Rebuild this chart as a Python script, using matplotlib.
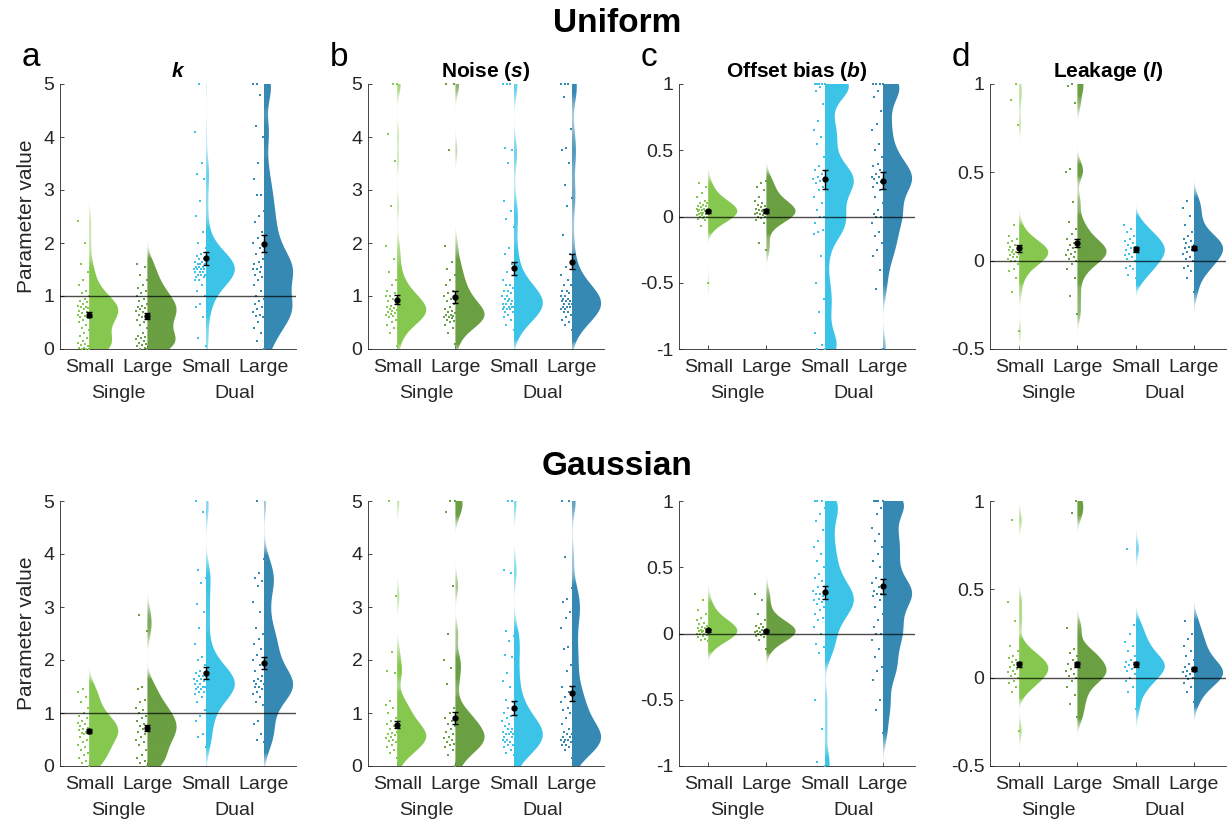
import numpy as np
import matplotlib
matplotlib.use('Agg')
import matplotlib.pyplot as plt
from matplotlib.patches import Polygon
from matplotlib.colors import to_rgb

plt.rcParams['font.family'] = ['Liberation Sans', 'DejaVu Sans']
plt.rcParams['mathtext.fontset'] = 'custom'
plt.rcParams['mathtext.rm'] = 'Liberation Sans'
plt.rcParams['mathtext.it'] = 'Liberation Sans:italic'
plt.rcParams['mathtext.bf'] = 'Liberation Sans:bold'
plt.rcParams['mathtext.bfit'] = 'Liberation Sans:italic:bold'
plt.rcParams['axes.unicode_minus'] = False

# ===== groups =====
CONDITIONS = ['Small', 'Large', 'Small', 'Large']
TASKS = ['Single', 'Dual']
COLORS = ['#86c84f', '#6a9f43', '#3cc4e8', '#3589b3']
TITLES = [r'$\mathbfit{k}$', r'Noise ($\mathbfit{s}$)', r'Offset bias ($\mathbfit{b}$)', r'Leakage ($\mathbfit{l}$)']
LETTERS = ['a', 'b', 'c', 'd']
ROW_TITLES = ['Uniform', 'Gaussian']

YLIMS = [(0, 5), (0, 5), (-1, 1), (-0.5, 1)]
YTICKS = [[0, 1, 2, 3, 4, 5], [0, 1, 2, 3, 4, 5], [-1, -0.5, 0, 0.5, 1], [-0.5, 0, 0.5, 1]]
YTICKLABELS = [['0', '1', '2', '3', '4', '5'], ['0', '1', '2', '3', '4', '5'],
               ['-1', '-0.5', '0', '0.5', '1'], ['-0.5', '0', '0.5', '1']]
REF_LINES = [1, None, 0, 0]
# kernel bandwidth per panel: (single-task groups, dual-task groups)
BANDWIDTHS = [(0.2, 0.28), (0.2, 0.28), (0.07, 0.1), (0.05, 0.055)]

# ===== Uniform (individual fits) =====
UNI_K = [
    [0.0, 0.0, 0.0, 0.01, 0.02, 0.05, 0.08, 0.1, 0.12, 0.15, 0.2, 0.25, 0.3, 0.35, 0.4, 0.45, 0.5, 0.55, 0.58,
     0.6, 0.62, 0.65, 0.68, 0.7, 0.72, 0.75, 0.78, 0.8, 0.8, 0.82, 0.85, 0.88, 0.9, 0.95, 1.0, 1.05, 1.1,
     1.2, 1.3, 1.45, 1.6, 2.0, 2.42],
    [0.0, 0.0, 0.02, 0.05, 0.08, 0.1, 0.12, 0.15, 0.18, 0.2, 0.22, 0.25, 0.3, 0.4, 0.45, 0.5, 0.55, 0.6,
     0.62, 0.65, 0.7, 0.72, 0.75, 0.78, 0.8, 0.82, 0.85, 0.9, 0.95, 1.0, 1.05, 1.1, 1.15, 1.2, 1.3, 1.4,
     1.55, 1.6],
    [0.05, 0.2, 0.6, 0.8, 0.85, 1.0, 1.1, 1.2, 1.3, 1.3, 1.35, 1.35, 1.4, 1.4, 1.4, 1.45, 1.45, 1.45, 1.5,
     1.5, 1.5, 1.5, 1.55, 1.55, 1.55, 1.6, 1.6, 1.6, 1.65, 1.65, 1.7, 1.7, 1.75, 1.8, 1.9, 2.0, 2.2, 2.5,
     2.8, 3.2, 3.3, 3.5, 4.1, 5.0],
    [0.0, 0.15, 0.3, 0.4, 0.5, 0.6, 0.62, 0.65, 0.7, 0.75, 0.8, 0.85, 0.9, 0.95, 1.0, 1.1, 1.2, 1.3, 1.35,
     1.4, 1.45, 1.5, 1.5, 1.55, 1.6, 1.65, 1.7, 1.8, 1.9, 2.0, 2.1, 2.2, 2.4, 2.5, 2.6, 2.9, 2.9, 3.2, 3.5,
     4.0, 4.2, 4.8, 5.0, 5.0],
]
UNI_S = [
    [0.05, 0.3, 0.4, 0.45, 0.5, 0.55, 0.6, 0.62, 0.65, 0.66, 0.68, 0.7, 0.72, 0.74, 0.75, 0.78, 0.8, 0.82,
     0.85, 0.9, 0.95, 1.0, 1.0, 1.05, 1.1, 1.2, 1.3, 1.45, 1.7, 1.95, 2.7, 3.55, 4.05, 5.0, 5.0],
    [0.1, 0.3, 0.4, 0.45, 0.5, 0.52, 0.55, 0.58, 0.6, 0.6, 0.62, 0.64, 0.65, 0.68, 0.7, 0.72, 0.75, 0.8,
     0.85, 0.9, 0.95, 1.0, 1.05, 1.1, 1.2, 1.3, 1.4, 1.5, 1.65, 1.95, 3.75, 5.0, 5.0],
    [0.35, 0.45, 0.55, 0.6, 0.65, 0.7, 0.7, 0.75, 0.75, 0.75, 0.8, 0.8, 0.8, 0.8, 0.85, 0.85, 0.85, 0.9,
     0.9, 0.95, 0.95, 1.0, 1.0, 1.05, 1.1, 1.1, 1.15, 1.2, 1.2, 1.3, 1.45, 1.6, 1.8, 1.9, 2.3, 2.45, 2.6,
     2.8, 3.5, 3.75, 3.8, 5.0, 5.0, 5.0],
    [0.35, 0.45, 0.5, 0.55, 0.6, 0.65, 0.7, 0.7, 0.75, 0.75, 0.8, 0.8, 0.8, 0.85, 0.85, 0.85, 0.9, 0.9,
     0.9, 0.95, 0.95, 1.0, 1.0, 1.05, 1.1, 1.1, 1.2, 1.2, 1.3, 1.4, 1.55, 1.8, 2.15, 2.7, 2.85, 3.1, 3.5,
     3.75, 3.8, 4.15, 4.75, 5.0, 5.0, 5.0],
]
UNI_B = [
    [-0.5, -0.07, -0.03, -0.02, -0.01, 0.0, 0.0, 0.0, 0.01, 0.01, 0.02, 0.02, 0.03, 0.03, 0.03, 0.04, 0.04,
     0.05, 0.05, 0.05, 0.06, 0.06, 0.07, 0.08, 0.08, 0.09, 0.1, 0.1, 0.12, 0.15, 0.18, 0.22, 0.25],
    [-0.25, -0.2, -0.05, -0.03, -0.01, 0.0, 0.0, 0.01, 0.02, 0.02, 0.03, 0.03, 0.04, 0.04, 0.05, 0.05, 0.06,
     0.07, 0.08, 0.09, 0.1, 0.12, 0.15, 0.2, 0.22, 0.25, 0.27],
    [-1.0, -1.0, -0.97, -0.88, -0.72, -0.62, -0.5, -0.3, -0.13, -0.12, -0.1, -0.05, 0.0, 0.0, 0.05, 0.1, 0.15,
     0.2, 0.22, 0.25, 0.27, 0.28, 0.3, 0.32, 0.35, 0.38, 0.45, 0.55, 0.6, 0.65, 0.72, 0.85, 0.95, 0.98, 1.0,
     1.0, 1.0, 1.0, 1.0],
    [-1.0, -0.55, -0.4, -0.3, -0.25, -0.2, -0.15, -0.12, -0.05, 0.0, 0.0, 0.02, 0.05, 0.1, 0.15, 0.2, 0.22,
     0.25, 0.26, 0.28, 0.3, 0.3, 0.32, 0.35, 0.38, 0.4, 0.45, 0.5, 0.55, 0.65, 0.7, 0.8, 0.9, 0.95, 1.0,
     1.0, 1.0, 1.0],
]
UNI_L = [
    [-0.4, -0.18, -0.1, -0.06, -0.05, -0.02, 0.0, 0.0, 0.01, 0.02, 0.02, 0.03, 0.04, 0.04, 0.05, 0.05, 0.06,
     0.06, 0.07, 0.08, 0.09, 0.1, 0.11, 0.12, 0.14, 0.2, 0.77, 0.91, 1.0],
    [-0.3, -0.2, -0.1, -0.05, -0.02, 0.0, 0.01, 0.02, 0.03, 0.04, 0.05, 0.06, 0.07, 0.08, 0.09, 0.1, 0.12,
     0.15, 0.18, 0.22, 0.33, 0.5, 0.52, 0.89, 0.99, 1.0],
    [-0.1, -0.08, -0.05, -0.04, -0.03, 0.0, 0.01, 0.02, 0.03, 0.04, 0.05, 0.06, 0.07, 0.08, 0.09, 0.1, 0.11,
     0.12, 0.14, 0.16, 0.18, 0.2],
    [-0.18, -0.1, -0.06, -0.04, -0.03, 0.0, 0.01, 0.02, 0.04, 0.05, 0.06, 0.07, 0.08, 0.09, 0.1, 0.11, 0.12,
     0.14, 0.16, 0.2, 0.25, 0.3, 0.34],
]

# ===== Gaussian =====
GAU_K = [
    [0.0, 0.05, 0.1, 0.15, 0.2, 0.25, 0.3, 0.35, 0.4, 0.45, 0.5, 0.55, 0.6, 0.6, 0.62, 0.65, 0.68, 0.7, 0.72,
     0.75, 0.8, 0.82, 0.85, 0.9, 0.95, 1.0, 1.1, 1.2, 1.3, 1.4, 1.45],
    [0.0, 0.05, 0.1, 0.15, 0.2, 0.3, 0.4, 0.45, 0.5, 0.55, 0.6, 0.65, 0.7, 0.72, 0.75, 0.8, 0.85, 0.9, 0.95,
     1.0, 1.05, 1.1, 1.2, 1.25, 1.45, 1.5, 2.55, 2.85],
    [0.35, 0.55, 0.6, 0.85, 0.95, 1.05, 1.2, 1.3, 1.35, 1.4, 1.4, 1.45, 1.45, 1.5, 1.5, 1.5, 1.55, 1.55,
     1.6, 1.6, 1.65, 1.65, 1.7, 1.7, 1.75, 1.8, 1.9, 2.0, 2.05, 2.3, 2.6, 2.9, 3.05, 3.45, 3.55, 3.7, 4.8,
     5.0],
    [0.45, 0.5, 0.6, 0.8, 0.85, 1.15, 1.2, 1.3, 1.35, 1.4, 1.45, 1.5, 1.5, 1.55, 1.55, 1.6, 1.6,
     1.65, 1.7, 1.8, 1.9, 2.0, 2.1, 2.2, 2.3, 2.4, 2.5, 2.6, 2.9, 3.1, 3.4, 3.5, 3.55, 3.65, 3.9, 5.0],
]
GAU_S = [
    [0.15, 0.25, 0.3, 0.35, 0.4, 0.45, 0.48, 0.5, 0.52, 0.55, 0.58, 0.6, 0.62, 0.65, 0.7, 0.75, 0.8, 0.85,
     0.9, 1.0, 1.1, 1.15, 1.22, 1.75, 1.8, 2.15, 3.2, 5.0],
    [0.0, 0.2, 0.3, 0.35, 0.4, 0.42, 0.45, 0.5, 0.52, 0.55, 0.6, 0.65, 0.7, 0.75, 0.8, 0.85, 0.9, 1.0, 1.1,
     1.55, 1.85, 2.0, 2.5, 3.4, 4.8, 5.0, 5.0],
    [0.2, 0.25, 0.3, 0.35, 0.4, 0.4, 0.45, 0.45, 0.5, 0.5, 0.55, 0.55, 0.6, 0.6, 0.6, 0.65, 0.65, 0.7, 0.7,
     0.75, 0.8, 0.85, 0.9, 0.95, 1.0, 1.1, 1.2, 1.25, 1.5, 1.6, 1.75, 2.05, 2.1, 2.35, 2.45, 2.55, 3.65,
     3.7, 5.0, 5.0],
    [0.15, 0.3, 0.35, 0.4, 0.4, 0.45, 0.45, 0.5, 0.5, 0.5, 0.55, 0.55, 0.6, 0.6, 0.65, 0.7,
     0.8, 0.9, 1.0, 1.05, 1.1, 1.2, 1.3, 1.4, 1.5, 1.8, 1.9, 2.2, 2.25, 2.6, 2.8, 2.9, 3.1, 3.15, 3.35, 3.95,
     5.0, 5.0],
]
GAU_B = [
    [-0.06, -0.05, -0.04, -0.03, -0.02, -0.01, 0.0, 0.0, 0.0, 0.01, 0.01, 0.02, 0.02, 0.03, 0.03, 0.04, 0.04,
     0.05, 0.06, 0.07, 0.08, 0.1, 0.12, 0.15, 0.18, 0.25],
    [-0.12, -0.05, -0.03, -0.02, -0.01, 0.0, 0.0, 0.0, 0.01, 0.01, 0.02, 0.02, 0.03, 0.03, 0.04, 0.05, 0.06,
     0.07, 0.1, 0.15, 0.25, 0.3],
    [-1.0, -0.97, -0.72, -0.5, -0.15, -0.1, -0.08, 0.0, 0.05, 0.1, 0.12, 0.15, 0.18, 0.2, 0.22, 0.24, 0.25,
     0.26, 0.28, 0.3, 0.3, 0.32, 0.35, 0.4, 0.42, 0.45, 0.5, 0.55, 0.6, 0.65, 0.7, 0.78, 0.85, 0.9, 0.95,
     1.0, 1.0, 1.0],
    [-0.75, -0.58, -0.5, -0.35, -0.28, -0.25, -0.18, -0.12, -0.05, 0.0, 0.0, 0.05, 0.1, 0.15, 0.2, 0.25, 0.28,
     0.3, 0.3, 0.32, 0.35, 0.38, 0.42, 0.5, 0.55, 0.6, 0.65, 0.7, 0.75, 0.8, 0.9, 0.95, 1.0, 1.0, 1.0, 1.0],
]
GAU_L = [
    [-0.3, -0.08, -0.05, -0.03, -0.02, 0.0, 0.01, 0.02, 0.03, 0.04, 0.05, 0.06, 0.07, 0.08, 0.09, 0.1, 0.11,
     0.12, 0.15, 0.18, 0.32, 0.43, 0.89],
    [-0.22, -0.15, -0.1, -0.05, -0.02, 0.0, 0.01, 0.02, 0.04, 0.05, 0.06, 0.08, 0.1, 0.12, 0.14, 0.16, 0.28,
     0.93, 1.0],
    [-0.18, -0.08, -0.05, -0.02, 0.0, 0.02, 0.04, 0.05, 0.06, 0.07, 0.08, 0.09, 0.1, 0.12, 0.15, 0.18, 0.2,
     0.25, 0.3, 0.73],
    [-0.14, -0.08, -0.05, -0.03, -0.01, 0.0, 0.01, 0.02, 0.03, 0.04, 0.05, 0.06, 0.08, 0.1, 0.12, 0.15, 0.18,
     0.22, 0.25, 0.32],
]

# group means and SEM (as plotted)
UNI_MEANS = [[0.65, 0.62, 1.71, 1.99], [0.93, 0.98, 1.52, 1.65], [0.04, 0.04, 0.28, 0.27], [0.07, 0.10, 0.065, 0.072]]
UNI_SEMS = [[0.05, 0.05, 0.12, 0.16], [0.09, 0.11, 0.13, 0.15], [0.01, 0.015, 0.07, 0.065], [0.02, 0.025, 0.015, 0.01]]
GAU_MEANS = [[0.66, 0.72, 1.76, 1.94], [0.78, 0.91, 1.09, 1.37], [0.025, 0.02, 0.31, 0.355], [0.075, 0.075, 0.075, 0.05]]
GAU_SEMS = [[0.04, 0.06, 0.11, 0.11], [0.07, 0.11, 0.13, 0.14], [0.01, 0.01, 0.05, 0.055], [0.015, 0.015, 0.012, 0.01]]

ROWS = [
    ([UNI_K, UNI_S, UNI_B, UNI_L], UNI_MEANS, UNI_SEMS),
    ([GAU_K, GAU_S, GAU_B, GAU_L], GAU_MEANS, GAU_SEMS),
]

AX_GRAY = '#262626'


def half_violin(ax, pos, vals, color, ylim, bw):
    lo = max(ylim[0], vals.min() - 3 * bw)
    hi = min(ylim[1], vals.max() + 3 * bw)
    y = np.linspace(lo, hi, 400)
    dens = np.exp(-0.5 * ((y[:, None] - vals[None, :]) / bw) ** 2).sum(1)
    w = 0.5 * dens / dens.max()
    # thin tails fade out to white
    fade = np.clip(w / 0.08, 0, 1)
    rgb = np.array(to_rgb(color))
    img = 1 - (1 - rgb[None, :]) * fade[:, None]
    verts = np.column_stack([np.r_[pos + w, pos, pos], np.r_[y, hi, lo]])
    shape = Polygon(verts, closed=True, facecolor='none', edgecolor='none')
    ax.add_patch(shape)
    im = ax.imshow(img[:, None, :], extent=(pos, pos + w.max(), lo, hi), origin='lower',
                   aspect='auto', interpolation='bilinear', zorder=2)
    im.set_clip_path(shape)


def raincloud(ax, groups, means, sems, ylim, bws, ref):
    for i, vals in enumerate(groups):
        pos = i + 1
        vals = np.asarray(vals, dtype=float)
        half_violin(ax, pos, vals, COLORS[i], ylim, bws[i // 2])
        jit = (np.arange(len(vals)) * 0.618034) % 1
        ax.scatter(pos - 0.2 * jit, vals, s=3, marker='s', color=COLORS[i], linewidths=0,
                   clip_on=False, zorder=3)
        ax.errorbar(pos, means[i], yerr=sems[i], fmt='o', color='k', ms=3.5, capsize=2.5,
                    elinewidth=1, capthick=1, zorder=6)
    if ref is not None:
        ax.axhline(ref, color='k', lw=1, alpha=0.7, zorder=5)


fig = plt.figure(figsize=(12.27, 8.23), dpi=100)
W, H = 1227, 823
lefts = [60, 368, 679, 990]
tops = [84, 501]
ax_w, ax_h = 236, 265

for r, (panels, means, sems) in enumerate(ROWS):
    for c in range(4):
        ax = fig.add_axes([lefts[c] / W, 1 - (tops[r] + ax_h) / H, ax_w / W, ax_h / H])
        raincloud(ax, panels[c], means[c], sems[c], YLIMS[c], BANDWIDTHS[c], REF_LINES[c])
        ax.set_xlim(0.5, 4.55)
        ax.set_ylim(*YLIMS[c])
        ax.set_yticks(YTICKS[c])
        ax.set_yticklabels(YTICKLABELS[c])
        ax.set_xticks([1, 2, 3, 4])
        ax.set_xticklabels(CONDITIONS)
        ax.tick_params(direction='in', length=3, width=0.6, color=AX_GRAY, labelsize=14,
                       labelcolor=AX_GRAY, pad=4)
        ax.tick_params(axis='x', pad=7)
        for side in ['top', 'right']:
            ax.spines[side].set_visible(False)
        for side in ['left', 'bottom']:
            ax.spines[side].set_color(AX_GRAY)
            ax.spines[side].set_linewidth(0.6)
        for t, xc in zip(TASKS, [1.5, 3.5]):
            ax.annotate(t, xy=(xc, 0), xycoords=('data', 'axes fraction'), xytext=(0, -32),
                        textcoords='offset points', ha='center', va='center', fontsize=14,
                        color=AX_GRAY)
        if c == 0:
            ax.set_ylabel('Parameter value', fontsize=15, color=AX_GRAY)
            ax.yaxis.set_label_coords(-0.10, 0.5)
        if r == 0:
            ax.set_title(TITLES[c], fontsize=15, fontweight='bold', pad=5)
            fig.text((lefts[c] - 38) / W, 1 - 66 / H, LETTERS[c], fontsize=24, va='baseline')

fig.text(617 / W, 1 - 32 / H, ROW_TITLES[0], fontsize=24, fontweight='bold', ha='center', va='baseline')
fig.text(617 / W, 1 - 475 / H, ROW_TITLES[1], fontsize=24, fontweight='bold', ha='center', va='baseline')

fig.savefig('out.png', dpi=100)
